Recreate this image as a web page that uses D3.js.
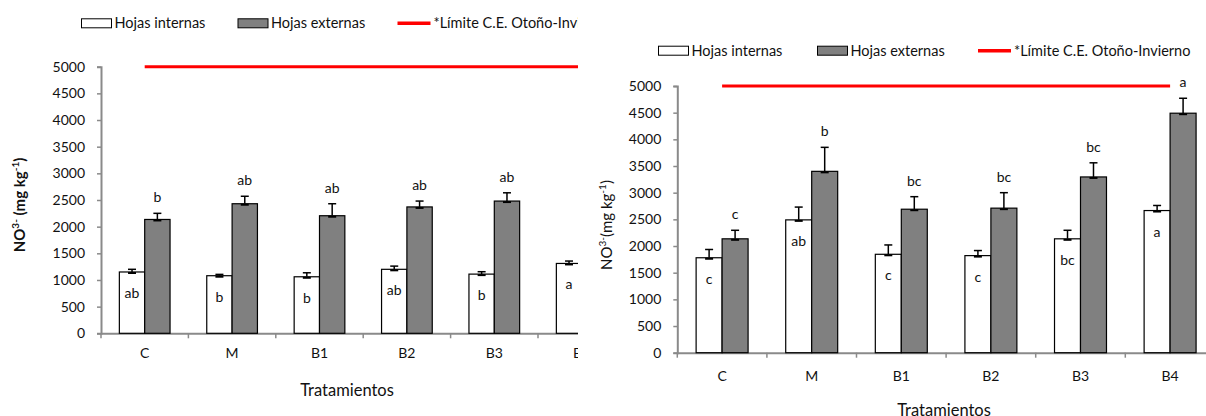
<!DOCTYPE html>
<html>
<head>
<meta charset="utf-8">
<script src="https://cdn.jsdelivr.net/npm/d3@7"></script>
<style>
  body { margin: 0; background: #fff; }
  svg { display: block; font-family: Lato, "Open Sans", sans-serif; }
</style>
</head>
<body>
<svg id="chart" width="1206" height="416"></svg>
<script>
// categories shared by both panels
const categories = ['C', 'M', 'B1', 'B2', 'B3', 'B4'];
const yTicks = [0, 500, 1000, 1500, 2000, 2500, 3000, 3500, 4000, 4500, 5000];
const limitValue = 5000;

// left panel
const internasA = [1150, 1080, 1060, 1200, 1110, 1310];
const internasAErr = [50, 25, 75, 60, 45, 45];
const externasA = [2135, 2430, 2205, 2370, 2480, 2500];
const externasAErr = [115, 140, 225, 110, 155, 150];
const lettersIntA = ['ab', 'b', 'b', 'ab', 'b', 'a'];
const lettersExtA = ['b', 'ab', 'ab', 'ab', 'ab', 'a'];

// right panel
const internasB = [1780, 2490, 1845, 1820, 2135, 2665];
const internasBErr = [155, 240, 175, 95, 160, 95];
const externasB = [2135, 3400, 2690, 2710, 3295, 4490];
const externasBErr = [160, 450, 235, 290, 265, 280];
const lettersIntB = ['c', 'ab', 'c', 'c', 'bc', 'a'];
const lettersExtB = ['c', 'b', 'bc', 'bc', 'bc', 'a'];

const legendLabels = ['Hojas internas', 'Hojas externas', '*Límite C.E. Otoño-Invierno'];

const svg = d3.select('#chart');
const axisColor = '#8a8a8a';

function drawPanel(opts, data) {
    const root = svg.append('g');
    if (opts.clipW) {
        const id = 'clip' + opts.id;
        svg.append('clipPath').attr('id', id)
            .append('rect').attr('x', opts.clipX).attr('y', 0).attr('width', opts.clipW).attr('height', 416);
        root.attr('clip-path', `url(#${id})`);
    }

    const x = d3.scaleBand()
        .domain(categories)
        .range([opts.left, opts.left + 6 * opts.step])
        .paddingInner(0.42)
        .paddingOuter(0.21);
    const sub = d3.scaleBand().domain(['int', 'ext']).range([0, x.bandwidth()]);
    const y = d3.scaleLinear().domain([0, 5000]).range([opts.bottom, opts.top]);

    // legend
    const lg = root.append('g').attr('transform', `translate(0,${opts.legendY})`);
    lg.append('rect').attr('x', opts.legendX[0]).attr('y', -4.5).attr('width', 30).attr('height', 9)
        .attr('fill', '#fff').attr('stroke', '#000').attr('stroke-width', 1);
    lg.append('rect').attr('x', opts.legendX[1]).attr('y', -4.5).attr('width', 30).attr('height', 9)
        .attr('fill', '#808080').attr('stroke', '#000').attr('stroke-width', 1);
    lg.append('line').attr('x1', opts.legendX[2]).attr('x2', opts.legendX[2] + 33)
        .attr('stroke', '#ff0000').attr('stroke-width', 3.5);
    const tx = [opts.legendX[0] + 33, opts.legendX[1] + 33, opts.legendX[2] + 36];
    legendLabels.forEach((t, i) => {
        lg.append('text').attr('x', tx[i]).attr('y', 5).attr('font-size', 14.5)
            .attr('fill', '#111').text(t);
    });

    // y axis
    const yAxis = root.append('g')
        .attr('transform', `translate(${opts.left},0)`)
        .call(d3.axisLeft(y).tickValues(yTicks).tickSize(4).tickPadding(12).tickFormat(d3.format('d')));
    yAxis.select('.domain').attr('stroke', axisColor).attr('stroke-width', 2);
    yAxis.selectAll('.tick line').attr('stroke', axisColor).attr('stroke-width', 1.5);
    yAxis.selectAll('.tick text').attr('font-size', 14).attr('fill', '#111').attr('font-family', 'Lato');

    // x axis line with boundary ticks
    const xAxis = root.append('g')
        .attr('transform', `translate(0,${opts.bottom})`)
        .call(d3.axisBottom(x).tickSize(0).tickPadding(opts.xLabelPad));
    xAxis.select('.domain').attr('stroke', axisColor).attr('stroke-width', 2);
    xAxis.selectAll('.tick text').attr('font-size', 14).attr('fill', '#111').attr('font-family', 'Lato');
    d3.range(7).forEach(i => {
        const bx = x.range()[0] + i * x.step();
        xAxis.append('line').attr('x1', bx).attr('x2', bx).attr('y1', 0).attr('y2', 5)
            .attr('stroke', axisColor).attr('stroke-width', 1.5);
    });

    const series = [
        { key: 'int', vals: data.int, err: data.intErr, fill: '#ffffff' },
        { key: 'ext', vals: data.ext, err: data.extErr, fill: '#808080' }
    ];

    series.forEach(s => {
        const g = root.append('g');
        categories.forEach((c, i) => {
            const bx = x(c) + sub(s.key);
            const bw = sub.bandwidth();
            const cx = bx + bw / 2;
            const top = y(s.vals[i]);
            const errTop = y(s.vals[i] + s.err[i]);
            g.append('line').attr('x1', cx).attr('x2', cx).attr('y1', top).attr('y2', errTop)
                .attr('stroke', '#000').attr('stroke-width', 1.5);
            g.append('line').attr('x1', cx - 4).attr('x2', cx + 4).attr('y1', errTop).attr('y2', errTop)
                .attr('stroke', '#000').attr('stroke-width', 1.5);
            g.append('rect').attr('x', bx).attr('y', top).attr('width', bw).attr('height', y(0) - top)
                .attr('fill', s.fill).attr('stroke', '#000').attr('stroke-width', 1.2);
            g.append('line').attr('x1', cx - 4).attr('x2', cx + 4).attr('y1', top + 1).attr('y2', top + 1)
                .attr('stroke', '#000').attr('stroke-width', 2);
        });
    });

    // significance letters
    categories.forEach((c, i) => {
        const cxInt = x(c) + sub('int') + sub.bandwidth() / 2;
        const cxExt = x(c) + sub('ext') + sub.bandwidth() / 2;
        root.append('text').attr('x', cxInt).attr('y', y(data.int[i]) + 26)
            .attr('text-anchor', 'middle').attr('font-size', 14).attr('fill', '#111').text(data.lInt[i]);
        root.append('text').attr('x', cxExt).attr('y', y(data.ext[i] + data.extErr[i]) - 11)
            .attr('text-anchor', 'middle').attr('font-size', 14).attr('fill', '#111').text(data.lExt[i]);
    });

    // limit line across category centres
    const line = d3.line().x(c => x(c) + x.bandwidth() / 2).y(() => y(limitValue));
    root.append('path').datum(categories).attr('d', line)
        .attr('fill', 'none').attr('stroke', '#ff0000').attr('stroke-width', 3);

    // axis titles
    root.append('text').attr('x', opts.xTitleX).attr('y', opts.xTitleY)
        .attr('text-anchor', 'middle').attr('font-size', 16.5).attr('fill', '#111').text('Tratamientos');

    const yt = root.append('text')
        .attr('transform', `translate(${opts.yTitleX},${opts.yTitleY}) rotate(-90)`)
        .attr('text-anchor', 'middle').attr('font-size', 15)
        .attr('font-weight', opts.yTitleBold ? 'bold' : 'normal').attr('fill', '#111');
    yt.append('tspan').text('NO');
    yt.append('tspan').attr('font-size', 10).attr('dy', -6).text('3-');
    yt.append('tspan').attr('dy', 6).text(opts.yTitleBold ? ' (mg kg' : '(mg kg');
    yt.append('tspan').attr('font-size', 10).attr('dy', -6).text('-1');
    yt.append('tspan').attr('dy', 6).text(')');
}

drawPanel({
    id: 'A', clipX: 0, clipW: 578,
    left: 101, step: 87.4, top: 66.7, bottom: 333.3,
    legendY: 23.3, legendX: [81.5, 238, 397.5],
    xLabelPad: 15, xTitleX: 347, xTitleY: 396,
    yTitleX: 25, yTitleY: 205, yTitleBold: true
}, {
    int: internasA, intErr: internasAErr, ext: externasA, extErr: externasAErr,
    lInt: lettersIntA, lExt: lettersExtA
});

drawPanel({
    id: 'B',
    left: 677.3, step: 89.6, top: 86, bottom: 352.7,
    legendY: 50.7, legendX: [658.5, 817.5, 978],
    xLabelPad: 18, xTitleX: 944, xTitleY: 416,
    yTitleX: 612, yTitleY: 225, yTitleBold: false
}, {
    int: internasB, intErr: internasBErr, ext: externasB, extErr: externasBErr,
    lInt: lettersIntB, lExt: lettersExtB
});
</script>
</body>
</html>
